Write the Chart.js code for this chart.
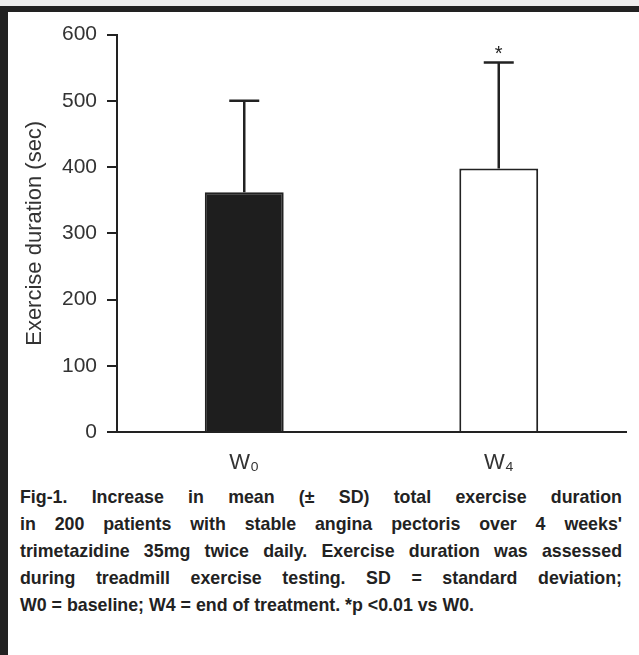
<!DOCTYPE html>
<html>
<head>
<meta charset="utf-8">
<script src="https://cdn.jsdelivr.net/npm/chart.js@4.4.0/dist/chart.umd.min.js"></script>
<style>
  html, body { margin: 0; padding: 0; background: #fff; }
  body { width: 639px; height: 655px; position: relative; overflow: hidden; font-family: "Liberation Sans", Arial, sans-serif; }
  #topstrip { position: absolute; left: 0; top: 0; width: 639px; height: 6px; background: #eeeeee; }
  #frame { position: absolute; left: 0; top: 6px; width: 639px; height: 649px; border-top: 6px solid #222; border-left: 8px solid #222; box-sizing: border-box; }
  #wrap { position: absolute; left: 10px; top: 12px; width: 625px; height: 470px; }
  #caption { position: absolute; left: 20px; top: 484px; width: 602px; font-weight: bold; font-size: 17.8px; line-height: 27px; color: #222; }
  #caption div { text-align: justify; text-align-last: justify; }
  #caption div.last { text-align-last: left; }
</style>
</head>
<body>
<div id="topstrip"></div>
<div id="frame"></div>
<div id="wrap"><canvas id="chart"></canvas></div>
<div id="caption">
  <div>Fig-1. Increase in mean (± SD) total exercise duration</div>
  <div>in 200 patients with stable angina pectoris over 4 weeks'</div>
  <div>trimetazidine 35mg twice daily. Exercise duration was assessed</div>
  <div>during treadmill exercise testing. SD = standard deviation;</div>
  <div class="last">W0 = baseline; W4 = end of treatment. *p &lt;0.01 vs W0.</div>
</div>
<script>
// data
const categories = ['W₀', 'W₄'];
const meanDuration = [362, 398];
const sdUpper = [500, 558];
const sigMarks = ['', '*'];
const barColors = ['#1e1e1e', '#ffffff'];

const ink = '#222';
const fontFamily = '"Liberation Sans", Arial, sans-serif';

// draws the +SD whiskers and the significance star
const errorBars = {
    id: 'errorBars',
    afterDatasetsDraw(chart) {
        const { ctx, scales: { x, y } } = chart;
        ctx.save();
        ctx.strokeStyle = ink;
        ctx.fillStyle = ink;
        ctx.lineWidth = 2.5;
        meanDuration.forEach((v, i) => {
            const cx = x.getPixelForValue(i);
            const yTop = y.getPixelForValue(sdUpper[i]);
            const yBase = y.getPixelForValue(v);
            ctx.beginPath();
            ctx.moveTo(cx, yBase);
            ctx.lineTo(cx, yTop);
            ctx.moveTo(cx - 15, yTop);
            ctx.lineTo(cx + 15, yTop);
            ctx.stroke();
            if (sigMarks[i]) {
                ctx.font = '20px ' + fontFamily;
                ctx.textAlign = 'center';
                ctx.textBaseline = 'alphabetic';
                ctx.fillText(sigMarks[i], cx, yTop - 2);
            }
        });
        ctx.restore();
    }
};

const ctx = document.getElementById('chart').getContext('2d');
new Chart(ctx, {
    type: 'bar',
    data: {
        labels: categories,
        datasets: [{
            data: meanDuration,
            backgroundColor: barColors,
            borderColor: ink,
            borderWidth: 2,
            barPercentage: 0.31,
            categoryPercentage: 1
        }]
    },
    options: {
        responsive: true,
        maintainAspectRatio: false,
        animation: false,
        layout: { padding: { top: 22, right: 9, left: 0, bottom: 0 } },
        plugins: {
            legend: { display: false },
            tooltip: { enabled: false }
        },
        scales: {
            x: {
                grid: { display: true, drawOnChartArea: false, drawTicks: false },
                border: { display: true, color: ink, width: 2 },
                ticks: {
                    color: '#333',
                    padding: 18,
                    font: { family: fontFamily, size: 22 }
                },
                afterFit: (scale) => { scale.height = 50; }
            },
            y: {
                min: 0,
                max: 600,
                grid: { display: true, drawOnChartArea: false, drawTicks: true, tickLength: 10, tickColor: ink, lineWidth: 2 },
                border: { display: true, color: ink, width: 2 },
                ticks: {
                    stepSize: 100,
                    color: '#333',
                    padding: 10,
                    font: { family: fontFamily, size: 21 }
                },
                title: {
                    display: true,
                    text: 'Exercise duration (sec)',
                    color: '#333',
                    padding: { top: 12, bottom: 4 },
                    font: { family: fontFamily, size: 22 }
                },
                afterFit: (scale) => { scale.width = 107; }
            }
        }
    },
    plugins: [errorBars]
});
</script>
</body>
</html>
